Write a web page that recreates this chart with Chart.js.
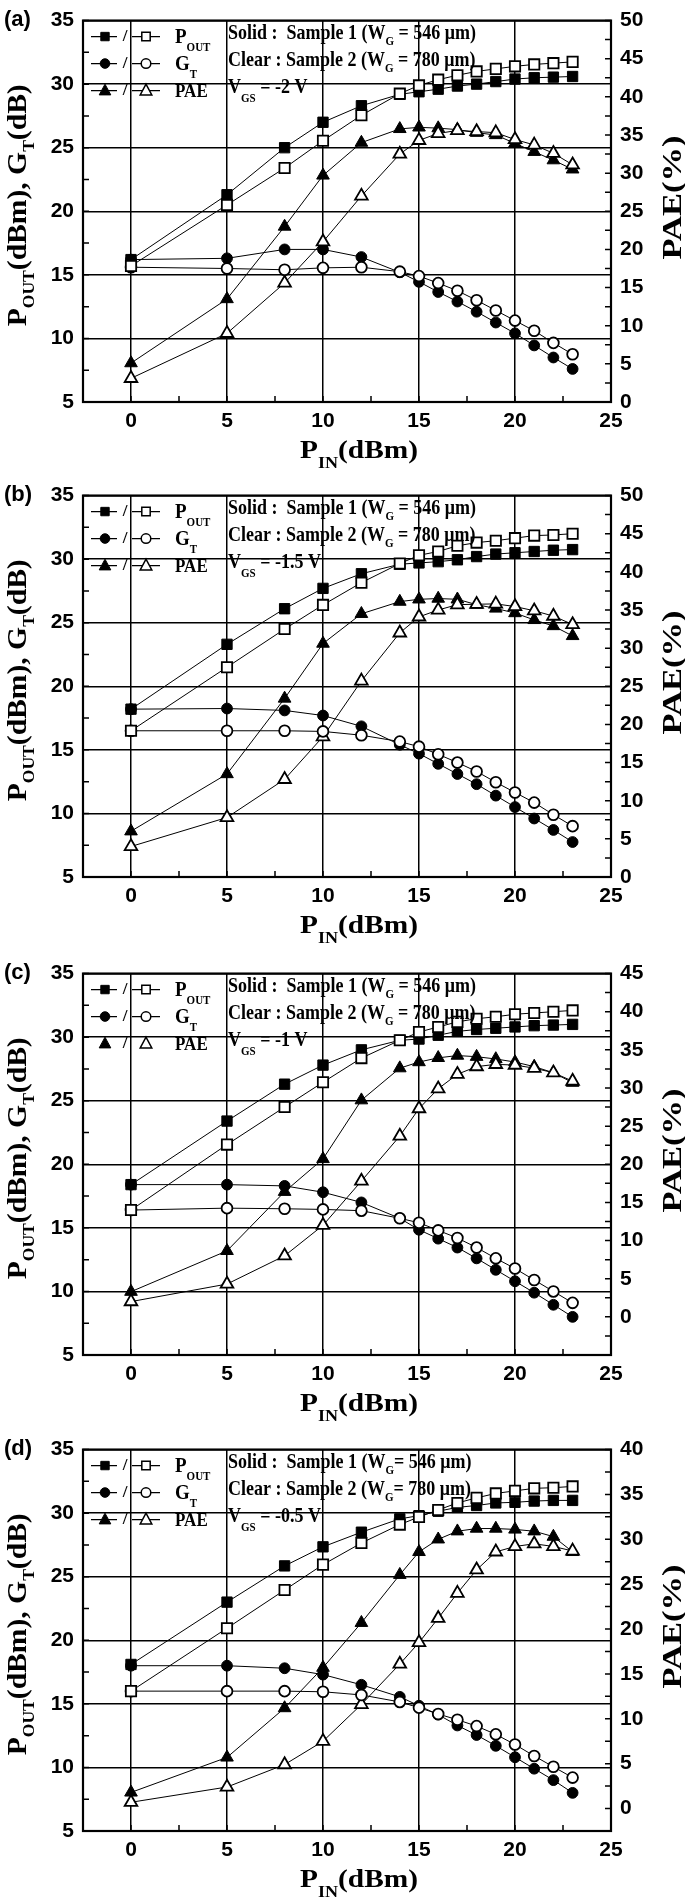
<!DOCTYPE html>
<html>
<head>
<meta charset="utf-8">
<script src="https://cdn.jsdelivr.net/npm/chart.js@4.4.1/dist/chart.umd.min.js"></script>
<style>
  body { margin: 0; background: #fff; width: 685px; height: 1900px; overflow: hidden; position: relative; }
  .panel { position: absolute; left: 0; width: 685px; }
</style>
</head>
<body>
<div class="panel" style="top:0px"><canvas id="pa" width="685" height="475"></canvas></div>
<div class="panel" style="top:475px"><canvas id="pb" width="685" height="475"></canvas></div>
<div class="panel" style="top:953px"><canvas id="pc" width="685" height="475"></canvas></div>
<div class="panel" style="top:1429px"><canvas id="pd" width="685" height="471"></canvas></div>
<script>
// input power (dBm), shared by every panel
const pin = [0, 5, 8, 10, 12, 14, 15, 16, 17, 18, 19, 20, 21, 22, 23];

// (a) VGS = -2 V   (Solid = sample 1, Open = sample 2)
const poutSolidA = [16.2, 21.3, 25.0, 27.0, 28.3, 29.2, 29.4, 29.6, 29.85, 30.0, 30.2, 30.4, 30.5, 30.55, 30.6];
const poutOpenA  = [15.7, 20.5, 23.4, 25.55, 27.55, 29.25, 29.9, 30.35, 30.7, 31.0, 31.2, 31.4, 31.55, 31.65, 31.75];
const gtSolidA   = [16.2, 16.3, 17.0, 17.0, 16.4, 15.2, 14.45, 13.65, 12.9, 12.1, 11.25, 10.4, 9.45, 8.5, 7.6];
const gtOpenA    = [15.6, 15.5, 15.4, 15.55, 15.6, 15.25, 14.9, 14.35, 13.75, 13.0, 12.2, 11.4, 10.6, 9.65, 8.75];
const paeSolidA  = [5.1, 13.5, 23.0, 29.7, 34.0, 35.8, 36.0, 35.9, 35.7, 35.3, 35.0, 33.9, 32.8, 31.7, 30.5];
const paeOpenA   = [3.1, 9.0, 15.6, 21.0, 27.0, 32.5, 34.3, 35.2, 35.6, 35.45, 35.3, 34.4, 33.7, 32.6, 31.1];

// (b) VGS = -1.5 V
const poutSolidB = [18.2, 23.3, 26.1, 27.7, 28.85, 29.6, 29.7, 29.8, 29.95, 30.2, 30.4, 30.5, 30.6, 30.7, 30.75];
const poutOpenB  = [16.5, 21.5, 24.5, 26.4, 28.15, 29.65, 30.3, 30.6, 31.05, 31.3, 31.45, 31.65, 31.85, 31.9, 32.0];
const gtSolidB   = [18.2, 18.25, 18.1, 17.7, 16.85, 15.4, 14.7, 13.9, 13.1, 12.3, 11.4, 10.5, 9.6, 8.7, 7.75];
const gtOpenB    = [16.5, 16.5, 16.5, 16.45, 16.15, 15.65, 15.25, 14.65, 14.0, 13.3, 12.45, 11.65, 10.85, 9.9, 9.0];
const paeSolidB  = [6.0, 13.5, 23.4, 30.6, 34.5, 36.1, 36.4, 36.5, 36.4, 35.7, 35.2, 34.6, 33.7, 32.9, 31.6];
const paeOpenB   = [4.0, 7.8, 12.8, 18.4, 25.7, 32.0, 34.1, 35.0, 35.7, 35.75, 35.8, 35.45, 34.9, 34.2, 33.1];

// (c) VGS = -1 V
const poutSolidC = [18.4, 23.4, 26.3, 27.8, 29.0, 29.75, 29.85, 30.15, 30.45, 30.6, 30.7, 30.8, 30.9, 30.95, 31.0];
const poutOpenC  = [16.4, 21.55, 24.5, 26.45, 28.35, 29.75, 30.4, 30.8, 31.2, 31.45, 31.6, 31.8, 31.9, 32.0, 32.1];
const gtSolidC   = [18.4, 18.4, 18.3, 17.8, 17.0, 15.75, 14.85, 14.15, 13.45, 12.6, 11.7, 10.8, 9.9, 8.95, 8.0];
const gtOpenC    = [16.4, 16.55, 16.5, 16.45, 16.35, 15.75, 15.4, 14.8, 14.2, 13.45, 12.6, 11.8, 10.9, 10.0, 9.1];
const paeSolidC  = [3.3, 8.65, 16.4, 20.7, 28.4, 32.6, 33.4, 33.95, 34.25, 34.1, 33.8, 33.4, 32.8, 32.0, 30.7];
const paeOpenC   = [2.0, 4.3, 8.0, 12.0, 17.8, 23.7, 27.3, 29.9, 31.8, 32.8, 33.1, 33.0, 32.6, 32.0, 30.9];

// (d) VGS = -0.5 V
const poutSolidD = [18.1, 23.0, 25.85, 27.35, 28.5, 29.55, 29.8, 30.15, 30.45, 30.6, 30.8, 30.85, 30.95, 31.0, 31.0];
const poutOpenD  = [16.0, 20.95, 23.95, 25.95, 27.65, 29.1, 29.7, 30.25, 30.8, 31.2, 31.55, 31.75, 31.95, 32.0, 32.1];
const gtSolidD   = [18.0, 18.0, 17.8, 17.3, 16.5, 15.55, 14.85, 14.15, 13.3, 12.55, 11.7, 10.8, 9.9, 9.0, 8.0];
const gtOpenD    = [16.0, 16.0, 16.0, 15.95, 15.7, 15.15, 14.7, 14.2, 13.75, 13.25, 12.6, 11.8, 10.9, 10.05, 9.2];
const paeSolidD  = [1.8, 5.7, 11.2, 15.7, 20.7, 26.05, 28.6, 30.0, 30.9, 31.2, 31.2, 31.1, 30.9, 30.3, 28.6];
const paeOpenD   = [0.7, 2.4, 4.9, 7.5, 11.6, 16.1, 18.5, 21.2, 24.0, 26.6, 28.6, 29.2, 29.5, 29.2, 28.7];

// axes
const xTicks = [0, 5, 10, 15, 20, 25];
const leftTicks = [5, 10, 15, 20, 25, 30, 35];
const paeTicksAB = [0, 5, 10, 15, 20, 25, 30, 35, 40, 45, 50];
const paeTicksC = [0, 5, 10, 15, 20, 25, 30, 35, 40, 45];
const paeTicksD = [0, 5, 10, 15, 20, 25, 30, 35, 40];
const paeRanges = [[0, 50], [0, 50], [-5, 45], [-2.5, 40]];

const panelLetters = ['(a)', '(b)', '(c)', '(d)'];
const vgsLabels = ['-2 V', '-1.5 V', '-1 V', '-0.5 V'];

const SANS = '"Liberation Sans", Arial, sans-serif';
const SERIF = '"Liberation Serif", "Times New Roman", serif';

Chart.defaults.animation = false;

// draw a run of text with subscripts, optionally rotated / stretched
function richText(ctx, parts, x, y, size, opt) {
  opt = opt || {};
  ctx.save();
  ctx.translate(x, y);
  if (opt.rotate) ctx.rotate(opt.rotate);
  const subSize = Math.round(size * (opt.subScale || 0.6));
  const fontOf = p => 'bold ' + (p[1] ? subSize : size) + 'px ' + (opt.family || SERIF);
  let w = 0;
  parts.forEach(p => { ctx.font = fontOf(p); w += ctx.measureText(p[0]).width; });
  const sx = opt.width ? opt.width / w : 1;
  ctx.scale(sx, opt.sy || 1);
  let cx = opt.align === 'center' ? -w / 2 : 0;
  ctx.fillStyle = '#000';
  ctx.textBaseline = 'alphabetic';
  ctx.textAlign = 'left';
  parts.forEach(p => {
    ctx.font = fontOf(p);
    ctx.fillText(p[0], cx, p[1] ? size * (opt.subDrop || 0.32) : 0);
    cx += ctx.measureText(p[0]).width;
  });
  ctx.restore();
}

function marker(ctx, style, x, y, r, open) {
  ctx.beginPath();
  if (style === 'rect') ctx.rect(x - r, y - r, 2 * r, 2 * r);
  else if (style === 'circle') ctx.arc(x, y, r, 0, Math.PI * 2);
  else {
    ctx.moveTo(x, y - r * 1.1);
    ctx.lineTo(x + r, y + r * 0.75);
    ctx.lineTo(x - r, y + r * 0.75);
    ctx.closePath();
  }
  ctx.fillStyle = open ? '#fff' : '#000';
  ctx.fill();
  ctx.lineWidth = open ? 1.5 : 1;
  ctx.strokeStyle = '#000';
  ctx.stroke();
}

function decorPlugin(idx, paeMin, paeMax) {
  return {
    id: 'decor' + idx,
    afterDraw(chart) {
      const ctx = chart.ctx, a = chart.chartArea;
      const sx = chart.scales.x, sy = chart.scales.y, sy1 = chart.scales.y1;
      ctx.save();
      ctx.strokeStyle = '#000';
      // inward ticks every 2.5
      ctx.lineWidth = 1.5;
      ctx.beginPath();
      for (let v = 0; v <= 25; v += 2.5) {
        const px = sx.getPixelForValue(v);
        ctx.moveTo(px, a.bottom); ctx.lineTo(px, a.bottom - 6);
      }
      for (let v = 5; v <= 35; v += 2.5) {
        const py = sy.getPixelForValue(v);
        ctx.moveTo(a.left, py); ctx.lineTo(a.left + 6, py);
      }
      for (let v = Math.ceil(paeMin / 2.5) * 2.5; v <= paeMax; v += 2.5) {
        const py = sy1.getPixelForValue(v);
        ctx.moveTo(a.right, py); ctx.lineTo(a.right - 6, py);
      }
      ctx.stroke();
      // frame
      ctx.lineWidth = 2.2;
      ctx.strokeRect(a.left, a.top, a.right - a.left, a.bottom - a.top);

      // legend, symbols
      const rows = [a.top + 16, a.top + 43, a.top + 70];
      const styles = ['rect', 'circle', 'triangle'];
      const sizes = [4.2, 4.8, 5.8];
      rows.forEach((ry, i) => {
        const noLine = idx === 2 && i === 2;
        if (!noLine) {
          ctx.beginPath();
          ctx.moveTo(a.left + 8, ry); ctx.lineTo(a.left + 34, ry);
          ctx.moveTo(a.left + 49, ry); ctx.lineTo(a.left + 77, ry);
          ctx.lineWidth = 1.3;
          ctx.stroke();
        }
        marker(ctx, styles[i], a.left + 22, ry, sizes[i], false);
        marker(ctx, styles[i], a.left + 63, ry, sizes[i], true);
        ctx.fillStyle = '#000';
        ctx.font = 'bold 17px ' + SERIF;
        ctx.textBaseline = 'middle';
        ctx.textAlign = 'center';
        ctx.fillText('/', a.left + 42, ry);
      });
      const lx = a.left + 92;
      richText(ctx, [['P'], ['OUT', 1]], lx, rows[0] + 6, 19, { sy: 1.1, subDrop: 0.4 });
      richText(ctx, [['G'], ['T', 1]], lx, rows[1] + 6, 19, { sy: 1.1, subDrop: 0.4 });
      richText(ctx, [['PAE']], lx, rows[2] + 6, 17, { sy: 1.1 });

      const tx = a.left + 145;
      const eq = idx === 3 ? '= ' : ' = ';
      richText(ctx, [['Solid :  Sample 1 (W'], ['G', 1], [eq + '546 \u03bcm)']], tx, a.top + 18, 18, { sy: 1.15 });
      richText(ctx, [['Clear : Sample 2 (W'], ['G', 1], [eq + '780 \u03bcm)']], tx, a.top + 45, 18, { sy: 1.15 });
      richText(ctx, [['V'], ['GS', 1], [' = ' + vgsLabels[idx]]], tx, a.top + 72, 18, { sy: 1.15, subDrop: 0.45 });

      // panel letter
      ctx.fillStyle = '#000';
      ctx.font = 'bold 22px ' + SANS;
      ctx.textAlign = 'left';
      ctx.textBaseline = 'alphabetic';
      ctx.fillText(panelLetters[idx], 4, 26);

      // axis titles
      richText(ctx, [['P'], ['OUT', 1], ['(dBm), G'], ['T', 1], ['(dB)']], 26, (a.top + a.bottom) / 2 - 6, 27,
        { rotate: -Math.PI / 2, align: 'center', width: 242, subDrop: 0.3 });
      richText(ctx, [['PAE(%)']], 681, a.top + 177, 27,
        { rotate: -Math.PI / 2, align: 'center', width: 124 });
      richText(ctx, [['P'], ['IN', 1], ['(dBm)']], (a.left + a.right) / 2 + 12, a.bottom + 56, 26,
        { align: 'center', width: 118, subDrop: 0.4 });
      ctx.restore();
    }
  };
}

function series(data, open, style, axis, r) {
  return {
    data: pin.map((x, i) => ({ x: x, y: data[i] })),
    yAxisID: axis,
    borderColor: '#000',
    borderWidth: 1,
    pointStyle: style,
    pointRadius: r,
    pointHoverRadius: r,
    pointBackgroundColor: open ? '#fff' : '#000',
    pointBorderColor: '#000',
    pointBorderWidth: open ? 1.8 : 1,
    fill: false,
    tension: 0
  };
}

function makePanel(idx, id, h, pout, gt, pae, paeTicks) {
  const [paeMin, paeMax] = paeRanges[idx];
  const tickFont = { family: SANS, size: 21, weight: 'bold', lineHeight: 1.1 };
  new Chart(document.getElementById(id), {
    type: 'line',
    data: {
      datasets: [
        // open symbols first so they sit on top
        series(pout[1], true, 'rect', 'y', 7.3),
        series(gt[1], true, 'circle', 'y', 5.4),
        series(pae[1], true, 'triangle', 'y1', 7.3),
        series(pout[0], false, 'rect', 'y', 7.3),
        series(gt[0], false, 'circle', 'y', 5.4),
        series(pae[0], false, 'triangle', 'y1', 7.3)
      ]
    },
    options: {
      responsive: false,
      devicePixelRatio: 1,
      layout: { padding: { top: 16, left: 0, right: 0, bottom: 0 } },
      plugins: { legend: { display: false }, tooltip: { enabled: false } },
      scales: {
        x: {
          type: 'linear', min: -2.5, max: 25,
          afterBuildTicks: s => { s.ticks = xTicks.map(v => ({ value: v })); },
          afterFit: s => { s.height = h - 402; },
          grid: { color: '#000', lineWidth: 1.5, drawTicks: false },
          border: { display: false },
          ticks: { font: tickFont, color: '#000', padding: 8, maxRotation: 0 }
        },
        y: {
          position: 'left', min: 5, max: 35,
          afterBuildTicks: s => { s.ticks = leftTicks.map(v => ({ value: v })); },
          afterFit: s => { s.width = 83; },
          grid: { color: '#000', lineWidth: 1.5, drawTicks: false },
          border: { display: false },
          ticks: { font: tickFont, color: '#000', padding: 9 }
        },
        y1: {
          position: 'right', min: paeMin, max: paeMax,
          afterBuildTicks: s => { s.ticks = paeTicks.map(v => ({ value: v })); },
          afterFit: s => { s.width = 74; },
          grid: { drawOnChartArea: false, drawTicks: false },
          border: { display: false },
          ticks: { font: tickFont, color: '#000', padding: 9 }
        }
      }
    },
    plugins: [decorPlugin(idx, paeMin, paeMax)]
  });
}

makePanel(0, 'pa', 475, [poutSolidA, poutOpenA], [gtSolidA, gtOpenA], [paeSolidA, paeOpenA], paeTicksAB);
makePanel(1, 'pb', 475, [poutSolidB, poutOpenB], [gtSolidB, gtOpenB], [paeSolidB, paeOpenB], paeTicksAB);
makePanel(2, 'pc', 475, [poutSolidC, poutOpenC], [gtSolidC, gtOpenC], [paeSolidC, paeOpenC], paeTicksC);
makePanel(3, 'pd', 471, [poutSolidD, poutOpenD], [gtSolidD, gtOpenD], [paeSolidD, paeOpenD], paeTicksD);
</script>
</body>
</html>
